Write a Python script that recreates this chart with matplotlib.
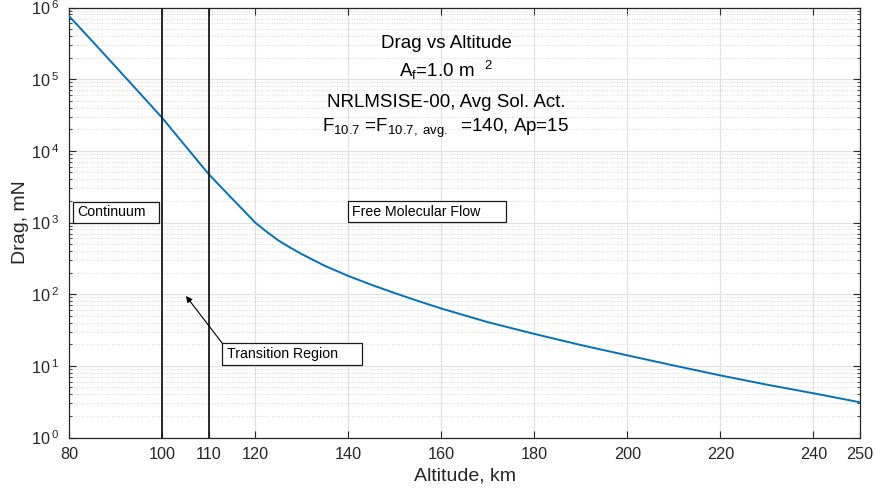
import numpy as np
import matplotlib
matplotlib.use("Agg")
import matplotlib.pyplot as plt
from matplotlib.patches import Rectangle
from matplotlib.ticker import FuncFormatter, NullLocator

plt.rcParams['font.family'] = ['Liberation Sans', 'DejaVu Sans']
plt.rcParams['mathtext.fontset'] = 'custom'
plt.rcParams['mathtext.rm'] = 'Liberation Sans'
plt.rcParams['mathtext.it'] = 'Liberation Sans:italic'
plt.rcParams['mathtext.default'] = 'regular'

# Drag vs altitude
altitude = [80, 85, 90, 95, 100, 105, 110, 115, 117.5, 120, 122.5, 125, 127.5,
            130, 135, 140, 145, 150, 155, 160, 170, 180, 190, 200, 210, 220,
            230, 240, 250]
drag = [7.6e5, 3.39e5, 1.5e5, 6.6e4, 2.9e4, 1.17e4, 4.75e3, 2.17e3, 1.48e3,
        1.0e3, 741, 562, 448, 363, 248, 180, 135, 103.5, 80.4, 63.1, 40.7,
        27.9, 19.5, 14.0, 10.1, 7.35, 5.46, 4.14, 3.1]

# regime boundaries, km
bounds = [100, 110]

xticks = [80, 100, 110, 120, 140, 160, 180, 200, 220, 240, 250]

title_lines = [
    "Drag vs Altitude",
    r"A$_\mathregular{f}$=1.0 m  $^\mathregular{2}$",
    "NRLMSISE-00, Avg Sol. Act.",
    r"F$_\mathregular{10.7}$ =F$_\mathregular{10.7,\ avg.}$  =140, Ap=15",
]

fig = plt.figure(figsize=(8.76, 4.92), dpi=100)
W, H = 876.0, 492.0
ax = fig.add_axes([69 / W, 1 - 437.5 / H, (860 - 69) / W, 430 / H])

ax.set_yscale('log')
ax.set_xlim(80, 250)
ax.set_ylim(1, 1e6)

ax.grid(True, which='major', color='#e1e1e1', lw=0.9)
ax.grid(True, which='minor', axis='y', color='#d0d0d0', lw=0.6, linestyle=(0, (1, 2)))
ax.set_axisbelow(True)

ax.plot(altitude, drag, color='#0072BD', lw=1.4, zorder=3)
for b in bounds:
    ax.axvline(b, color='#1a1a1a', lw=1.3, zorder=4)

ax.set_xticks(xticks)
ax.set_xticklabels([str(t) for t in xticks])
ax.set_yticks([10.0 ** k for k in range(7)])
ax.yaxis.set_major_formatter(FuncFormatter(lambda v, p: r"10$\,^{%d}$" % round(np.log10(v))))
ax.minorticks_on()
ax.xaxis.set_minor_locator(NullLocator())

ax.tick_params(which='both', direction='in', top=True, right=True,
               colors='#262626', labelsize=11.7)
ax.tick_params(which='major', length=5, width=0.8, pad=7)
ax.tick_params(which='minor', length=2.5, width=0.6)
for s in ax.spines.values():
    s.set_color('#262626')
    s.set_linewidth(0.9)

ax.set_xlabel('Altitude, km', fontsize=14, color='#262626', labelpad=4)
ax.set_ylabel('Drag, mN', fontsize=14, color='#262626', labelpad=1)

# title block
for txt, base in zip(title_lines, [48.3, 76.7, 107.3, 131.7]):
    fig.text(446 / W, 1 - base / H, txt, ha='center', va='baseline', fontsize=13.5)


# text boxes (pixel positions of the reference)
def box(x0, x1, y0, y1, tx, label):
    bx = (x0 - 69) / 791
    by = (437.5 - y1) / 430
    ax.add_patch(Rectangle((bx, by), (x1 - x0) / 791, (y1 - y0) / 430,
                           transform=ax.transAxes, facecolor='white',
                           edgecolor='#1a1a1a', lw=0.9, zorder=5))
    ax.text((tx - 69) / 791, (437.5 - (y0 + y1) / 2) / 430, label,
            transform=ax.transAxes, ha='left', va='center', fontsize=10.2,
            zorder=6)


box(72.7, 158.7, 202, 223, 77.7, 'Continuum')
box(348.3, 506, 200.7, 222.3, 351.7, 'Free Molecular Flow')
box(222.3, 361.7, 343.3, 365, 226.7, 'Transition Region')

ax.annotate('', xy=((186 - 69) / 791, (437.5 - 296) / 430),
            xytext=((222.3 - 69) / 791, (437.5 - 343.3) / 430),
            xycoords='axes fraction', textcoords='axes fraction',
            arrowprops=dict(arrowstyle='-|>', color='k', lw=0.8,
                            mutation_scale=9, shrinkA=0, shrinkB=0),
            zorder=6)

fig.savefig('out.png', dpi=100)
